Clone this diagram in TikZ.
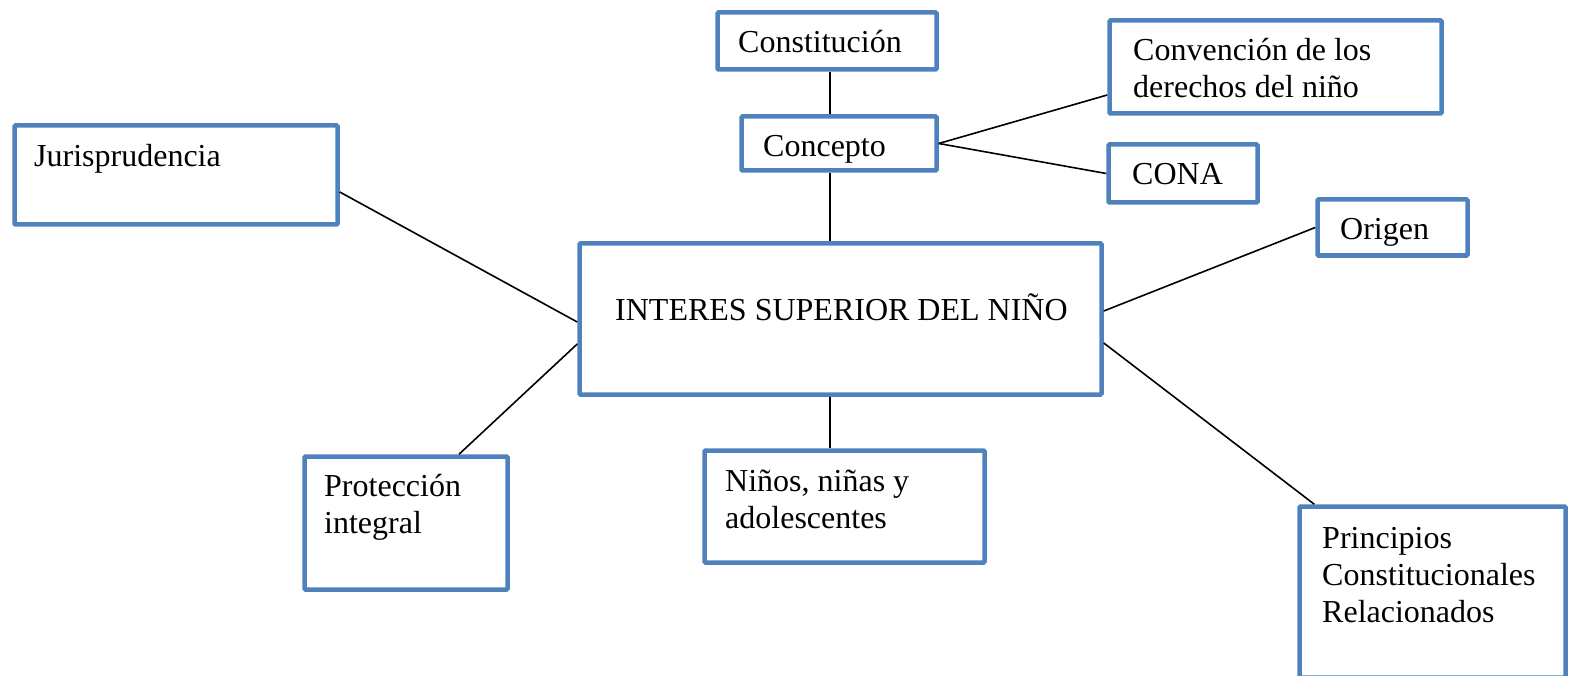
\documentclass[tikz,border=0pt]{standalone}
\usepackage{fontspec}
\setmainfont{Liberation Serif}
\usepackage{xcolor}
\usetikzlibrary{calc,positioning}
\definecolor{boxblue}{RGB}{79,129,189}

\begin{document}
\begin{tikzpicture}[
	%	style def
    x=1pt, y=-1pt,
    concept box/.style={draw=boxblue, line width=4.5pt, rounded corners=1pt, inner sep=0pt},
    link line/.style={line width=1.6pt},
    box text/.style={anchor=base west, inner sep=0pt, align=left, font=\fontsize{32}{37}\selectfont}
    ]
	\useasboundingbox (0,0) rectangle (1570,676);

	% boxes
	\node[concept box, minimum width=522pt, minimum height=151pt] (main) at (840.5,319) {};
	\node[concept box, minimum width=219pt, minimum height=57pt] (const) at (827,41) {};
	\node[concept box, minimum width=195pt, minimum height=54pt] (conc) at (839,143.5) {};
	\node[concept box, minimum width=332pt, minimum height=93pt] (conv) at (1275.5,67) {};
	\node[concept box, minimum width=149pt, minimum height=58pt] (cona) at (1183,173.5) {};
	\node[concept box, minimum width=150pt, minimum height=56pt] (orig) at (1392.5,227.5) {};
	\node[concept box, minimum width=323pt, minimum height=99pt] (juri) at (176,175) {};
	\node[concept box, minimum width=203pt, minimum height=133pt] (prot) at (406,523) {};
	\node[concept box, minimum width=280pt, minimum height=112pt] (ninos) at (844.5,506.5) {};
	\node[concept box, minimum width=266pt, minimum height=171pt] (prin) at (1432.5,592) {};

	% texts (base = last line)
	\node[box text] (main-t) at (615,320) {INTERES SUPERIOR DEL NIÑO};
	\node[box text] (const-t) at (738,53) {Constitución};
	\node[box text] (conc-t) at (763,157) {Concepto};
	\node[box text] (conv-t) at (1133,98) {Convención de los\\derechos del niño};
	\node[box text] (cona-t) at (1132,185) {CONA};
	\node[box text] (orig-t) at (1340,240) {Origen};
	\node[box text] (juri-t) at (34,167) {Jurisprudencia};
	\node[box text] (prot-t) at (324,533) {Protección\\integral};
	\node[box text] (ninos-t) at (725,528) {Niños, niñas y\\adolescentes};
	\node[box text] (prin-t) at (1322,622) {Principios\\Constitucionales\\Relacionados};

	% connections
	\coordinate (axis) at (830,0);
	\draw[link line] (const.south -| axis) -- (conc.north -| axis);
	\draw[link line] (conc.south -| axis) -- (main.north -| axis);
	\draw[link line] (main.south -| axis) -- (ninos.north -| axis);
	\draw[link line] (conc.east) -- ([yshift=-28pt]conv.west);
	\draw[link line] (conc.east) -- (cona.west);
	\draw[link line] ([yshift=8pt]main.east) -- (orig.west);
	\draw[link line] ([yshift=-24pt]main.east) -- ([xshift=17pt]prin.north west);
	\draw[link line] ([yshift=-17pt]juri.east) -- ([yshift=-3pt]main.west);
	\draw[link line] ([yshift=-25pt]main.west) -- ([xshift=53pt]prot.north);

\end{tikzpicture}
\end{document}
